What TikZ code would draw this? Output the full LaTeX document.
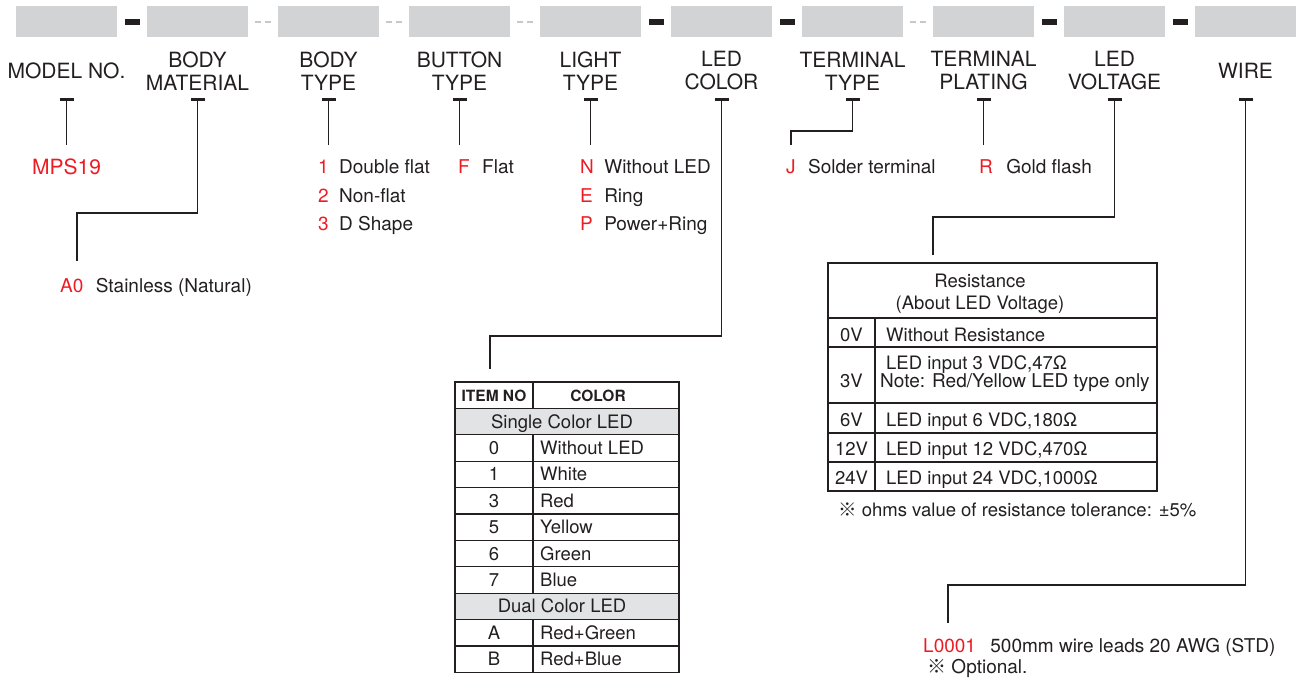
\documentclass[tikz,border=0pt]{standalone}
\usepackage{fontspec}
\setmainfont{TeX Gyre Heros}
\newfontfamily\cjkfont{Noto Sans CJK JP}
\usetikzlibrary{positioning}
\definecolor{ink}{HTML}{231F20}
\definecolor{codered}{HTML}{ED1C24}
\definecolor{boxgray}{HTML}{D1D3D4}
\definecolor{rowgray}{HTML}{E2E3E4}
\definecolor{gapgray}{HTML}{C7C8CA}

\begin{document}
\begin{tikzpicture}[
    x=1pt, y=-1pt, % pixel grid of the sheet, y going down
    fieldbox/.style={fill=boxgray, minimum width=101pt, minimum height=31pt, inner sep=0pt}, % code field
    hyphen/.style={fill=ink, minimum width=15pt, minimum height=6pt, inner sep=0pt}, % fixed hyphen
    gaphyphen/.style={draw=gapgray, line width=1.2pt, dash pattern=on 6pt off 4pt}, % optional hyphen
    heading/.style={font=\fontsize{21}{23}\selectfont, text=ink, align=center, inner sep=0pt},
    tbar/.style={fill=ink, minimum width=14pt, minimum height=3pt, inner sep=0pt},
    leader/.style={draw=ink, line width=1.8pt},
    codetxt/.style={font=\fontsize{19}{19}\selectfont, text=codered, inner sep=0pt, anchor=base west},
    opttxt/.style={font=\fontsize{19}{19}\selectfont, text=ink, inner sep=0pt},
    celltxt/.style={font=\fontsize{18.5}{18.5}\selectfont, text=ink, inner sep=0pt, anchor=base},
    lcelltxt/.style={celltxt, anchor=base west},
    tabline/.style={draw=ink, line width=1.3pt}
  ]
    \useasboundingbox (0,0) rectangle (1299,678);

    % Code fields
    \node[fieldbox] (f1)  at (66.5,21.5)   {};
    \node[fieldbox] (f2)  at (197.5,21.5)  {};
    \node[fieldbox] (f3)  at (328.5,21.5)  {};
    \node[fieldbox] (f4)  at (459.5,21.5)  {};
    \node[fieldbox] (f5)  at (590.5,21.5)  {};
    \node[fieldbox] (f6)  at (721.5,21.5)  {};
    \node[fieldbox] (f7)  at (852.5,21.5)  {};
    \node[fieldbox] (f8)  at (983.5,21.5)  {};
    \node[fieldbox] (f9)  at (1114.5,21.5) {};
    \node[fieldbox] (f10) at (1245.5,21.5) {};

    % Hyphens between the fields
    \node[hyphen] (s1) at (132,22)  {};
    \node[hyphen] (s5) at (656,22)  {};
    \node[hyphen] (s6) at (787,22)  {};
    \node[hyphen] (s8) at (1049,22) {};
    \node[hyphen] (s9) at (1180,22) {};
    \draw[gaphyphen] (255,22) -- (271,22);
    \draw[gaphyphen] (386,22) -- (402,22);
    \draw[gaphyphen] (517,22) -- (533,22);
    \draw[gaphyphen] (910,22) -- (926,22);

    % Field names
    \node[heading] (h1)  at (66.5,71)   {MODEL NO.};
    \node[heading] (h2)  at (197.5,71)  {BODY\\MATERIAL};
    \node[heading] (h3)  at (328.5,71)  {BODY\\TYPE};
    \node[heading] (h4)  at (459.5,71)  {BUTTON\\TYPE};
    \node[heading] (h5)  at (590.5,71)  {LIGHT\\TYPE};
    \node[heading] (h6)  at (721.5,71)  {LED\\COLOR};
    \node[heading] (h7)  at (852.5,71)  {TERMINAL\\TYPE};
    \node[heading] (h8)  at (983.5,71)  {TERMINAL\\PLATING};
    \node[heading] (h9)  at (1114.5,71) {LED\\VOLTAGE};
    \node[heading] (h10) at (1245.5,71) {WIRE};

    % T marks under the names
    \node[tbar] (t1)  at (66.5,99)   {};
    \node[tbar] (t2)  at (197.5,99)  {};
    \node[tbar] (t3)  at (328.5,99)  {};
    \node[tbar] (t4)  at (459.5,99)  {};
    \node[tbar] (t5)  at (590.5,99)  {};
    \node[tbar] (t6)  at (721.5,99)  {};
    \node[tbar] (t7)  at (852.5,99)  {};
    \node[tbar] (t8)  at (983.5,99)  {};
    \node[tbar] (t9)  at (1114.5,99) {};
    \node[tbar] (t10) at (1245.5,99) {};

    % Leader ends
    \coordinate (e1)  at (66.5,145);
    \coordinate (e2)  at (77,261);
    \coordinate (e3)  at (328.5,145);
    \coordinate (e4)  at (459.5,145);
    \coordinate (e5)  at (590.5,145);
    \coordinate (e6)  at (490,369);
    \coordinate (e7)  at (791,145);
    \coordinate (e8)  at (983.5,145);
    \coordinate (e9)  at (933,255);
    \coordinate (e10) at (948,623);

    % Leaders
    \draw[leader] (t1.center) -- (e1);
    \draw[leader] (t2.center) -- ++(0,114) -| (e2);
    \draw[leader] (t3.center) -- (e3);
    \draw[leader] (t4.center) -- (e4);
    \draw[leader] (t5.center) -- (e5);
    \draw[leader] (t6.center) -- ++(0,237) -| (e6);
    \draw[leader] (t7.center) -- ++(0,32) -| (e7);
    \draw[leader] (t8.center) -- (e8);
    \draw[leader] (t9.center) -- ++(0,118) -| (e9);
    \draw[leader] (t10.center) -- ++(0,486) -| (e10);

    % Options
    \node[codetxt, font=\fontsize{21}{21}\selectfont] (c1) at (32,174) {MPS19};
    \node[codetxt] (c2)  at (60,292)  {A0};
    \node[opttxt, base right=12pt of c2]  (o2)  {Stainless (Natural)};
    \node[codetxt] (c3a) at (318,173) {1};
    \node[opttxt, base right=10pt of c3a] (o3a) {Double flat};
    \node[codetxt] (c3b) at (318,202) {2};
    \node[opttxt, base right=10pt of c3b] (o3b) {Non-flat};
    \node[codetxt] (c3c) at (318,230) {3};
    \node[opttxt, base right=10pt of c3c] (o3c) {D Shape};
    \node[codetxt] (c4)  at (458,173) {F};
    \node[opttxt, base right=12pt of c4]  (o4)  {Flat};
    \node[codetxt] (c5a) at (580,173) {N};
    \node[opttxt, base right=10pt of c5a] (o5a) {Without LED};
    \node[codetxt] (c5b) at (580,202) {E};
    \node[opttxt, base right=11pt of c5b] (o5b) {Ring};
    \node[codetxt] (c5c) at (580,230) {P};
    \node[opttxt, base right=11pt of c5c] (o5c) {Power+Ring};
    \node[codetxt] (c7)  at (786,173) {J};
    \node[opttxt, base right=12pt of c7]  (o7)  {Solder terminal};
    \node[codetxt] (c8)  at (979,173) {R};
    \node[opttxt, base right=13pt of c8]  (o8)  {Gold flash};
    \node[codetxt] (c10) at (923,652) {L0001};
    \node[opttxt, base right=14pt of c10] (o10) {500mm wire leads 20 AWG (STD)};
    \node[opttxt, anchor=base west] (n10) at (927,673) {{\cjkfont ※} Optional.};

    % LED colour table
    \fill[rowgray] (455,408.4) rectangle (679,434.8);
    \fill[rowgray] (455,594) rectangle (679,620.4);
    \foreach \k in {1,...,10}
      \draw[tabline] (455,{382+26.4*\k}) -- (679,{382+26.4*\k});
    \draw[tabline] (533,382) -- (533,408.4);
    \draw[tabline] (533,434.8) -- (533,594);
    \draw[tabline] (533,620.4) -- (533,672.4);
    \draw[tabline] (455,382) rectangle (679,672.4);
    \node[celltxt, font=\fontsize{15.5}{15.5}\selectfont\bfseries] (ch1) at (494,401.5) {ITEM NO};
    \node[celltxt, font=\fontsize{15.5}{15.5}\selectfont\bfseries] (ch2) at (598,401.5) {COLOR};
    \node[celltxt] (cs)  at (562,428)   {Single Color LED};
    \node[celltxt] (ck0) at (494,454.4) {0};
    \node[lcelltxt] (cv0) at (540,454.4) {Without LED};
    \node[celltxt] (ck1) at (494,480.8) {1};
    \node[lcelltxt] (cv1) at (540,480.8) {White};
    \node[celltxt] (ck3) at (494,507.2) {3};
    \node[lcelltxt] (cv3) at (540,507.2) {Red};
    \node[celltxt] (ck5) at (494,533.6) {5};
    \node[lcelltxt] (cv5) at (540,533.6) {Yellow};
    \node[celltxt] (ck6) at (494,560)   {6};
    \node[lcelltxt] (cv6) at (540,560)   {Green};
    \node[celltxt] (ck7) at (494,586.4) {7};
    \node[lcelltxt] (cv7) at (540,586.4) {Blue};
    \node[celltxt] (cd)  at (562,612.8) {Dual Color LED};
    \node[celltxt] (cka) at (494,639.2) {A};
    \node[lcelltxt] (cva) at (540,639.2) {Red+Green};
    \node[celltxt] (ckb) at (494,665.6) {B};
    \node[lcelltxt] (cvb) at (540,665.6) {Red+Blue};

    % Resistance table
    \draw[tabline] (828,263) rectangle (1157,491);
    \draw[tabline] (828,318) -- (1157,318);
    \draw[tabline] (828,347) -- (1157,347);
    \draw[tabline] (828,403) -- (1157,403);
    \draw[tabline] (828,433) -- (1157,433);
    \draw[tabline] (828,462) -- (1157,462);
    \draw[tabline] (875,318) -- (875,491);
    \node[celltxt] (rh1) at (980,287) {Resistance};
    \node[celltxt] (rh2) at (980,309) {(About LED Voltage)};
    \node[celltxt] (rv0)  at (851.5,341) {0V};
    \node[lcelltxt] (rt0) at (886,341)   {Without Resistance};
    \node[celltxt] (rv3)  at (851.5,387) {3V};
    \node[lcelltxt] (rt3) at (886,369)   {LED input 3 VDC,47Ω};
    \node[lcelltxt, font=\fontsize{19}{19}\selectfont] (rn3) at (880,387) {Note: Red/Yellow LED type only};
    \node[celltxt] (rv6)  at (851.5,426) {6V};
    \node[lcelltxt] (rt6) at (886,426)   {LED input 6 VDC,180Ω};
    \node[celltxt] (rv12) at (851.5,455) {12V};
    \node[lcelltxt] (rt12) at (886,455)  {LED input 12 VDC,470Ω};
    \node[celltxt] (rv24) at (851.5,484) {24V};
    \node[lcelltxt] (rt24) at (886,484)  {LED input 24 VDC,1000Ω};
    \node[lcelltxt] (tol) at (838,516)   {{\cjkfont ※} ohms value of resistance tolerance: ±5\%};
\end{tikzpicture}
\end{document}
